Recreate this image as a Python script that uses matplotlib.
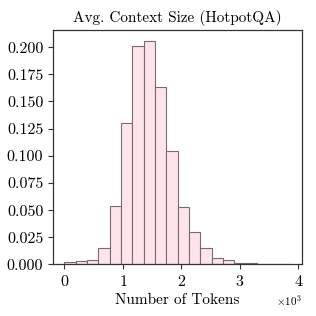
import numpy as np
import matplotlib
matplotlib.use("Agg")
import matplotlib.pyplot as plt

# Data: probability per bin of token counts
bin_start = 0.0
bin_end = 3870.0
probs = [0.0025, 0.003, 0.004, 0.015, 0.054, 0.130, 0.201, 0.2055, 0.163, 0.104,
         0.0525, 0.030, 0.0155, 0.0058, 0.0043, 0.0016, 0.0016, 0.0006, 0.0006, 0.0002]
title = "Avg. Context Size (HotpotQA)"
xlabel = "Number of Tokens"
yticks = [0.0, 0.025, 0.05, 0.075, 0.1, 0.125, 0.15, 0.175, 0.2]

plt.rcParams['font.family'] = 'serif'
plt.rcParams['font.serif'] = ['cmr10']
plt.rcParams['mathtext.fontset'] = 'cm'
plt.rcParams['axes.unicode_minus'] = False
plt.rcParams['axes.formatter.use_mathtext'] = True

edges = np.linspace(bin_start, bin_end, len(probs) + 1)

fig = plt.figure(figsize=(3.16, 3.16), dpi=100)
ax = fig.add_axes([0.168, 0.163, 0.788, 0.742])
ax.hist(edges[:-1], bins=edges, weights=probs, facecolor='#fde4eb',
        edgecolor='#7a6a70', linewidth=0.8)
ax.set_title(title, fontsize=11, pad=6)
ax.set_xlabel(xlabel, fontsize=11, labelpad=3)
ax.set_yticks(yticks)
ax.set_yticklabels([f"{v:.3f}" for v in yticks])
ax.ticklabel_format(style='sci', axis='x', scilimits=(0, 0))
ax.set_xticks([0, 1000, 2000, 3000, 4000])
ax.tick_params(labelsize=11.5, length=3.5, width=0.8, color='#333333')
for s in ax.spines.values():
    s.set_color('#333333')
    s.set_linewidth(0.9)
ax.xaxis.get_offset_text().set_fontsize(8)
fig.savefig("out.png", dpi=100)
